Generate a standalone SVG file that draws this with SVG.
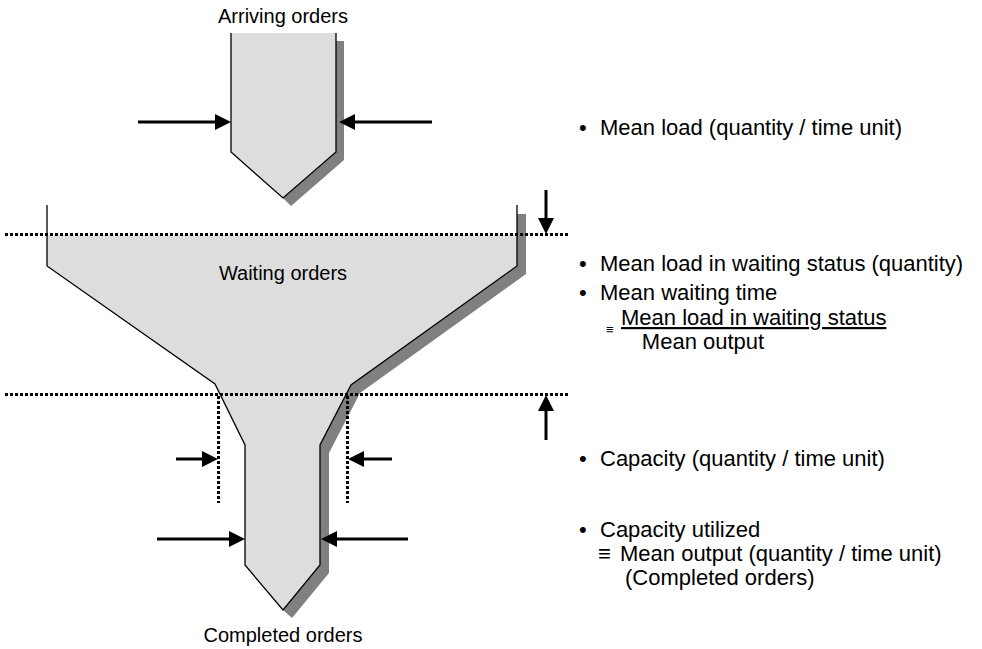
<svg xmlns="http://www.w3.org/2000/svg" width="982" height="649" viewBox="0 0 982 649">
<style>
text{font-family:"Liberation Sans",Arial,sans-serif;font-size:20px;fill:#000}
#legend text{font-size:22px}
.fill{fill:#dddddd;stroke:none}
.shadow{fill:#808080;stroke:none}
.outline{fill:none;stroke:#000;stroke-width:1.3;stroke-linejoin:miter}
.dot{stroke:#000;stroke-width:3;stroke-dasharray:3 2;fill:none}
.arr{stroke:#000;stroke-width:3;fill:none;marker-end:url(#ah)}
</style>
<defs>
<marker id="ah" viewBox="0 0 16 16" refX="6" refY="8" markerWidth="16" markerHeight="16" markerUnits="userSpaceOnUse" orient="auto">
<path d="M0,0 L16,8 L0,16 z" fill="#000"/>
</marker>
</defs>
<rect width="982" height="649" fill="#fff"/>

<g id="arriving">
<polygon class="shadow" points="336,41 344,41 344,160 291,206 283,198 336,152"/>
<polygon class="fill" points="231,33 336,33 336,152 283,198 231,152"/>
<polyline class="outline" points="231,33 231,152 283,198 336,152 336,33"/>
<text x="283" y="23" text-anchor="middle">Arriving orders</text>
</g>

<g id="funnel">
<polygon class="shadow" points="517,214 526,214 526,274 360,393 329,453 329,573 292,618 283,610 320,565 320,445 351,385 517,266"/>
<polygon class="fill" points="47,235 47,266 215,384 245,445 245,565 283,610 320,565 320,445 351,385 517,266 517,235"/>
<polyline class="outline" points="47,205 47,266 215,384 245,445 245,565 283,610 320,565 320,445 351,385 517,266 517,205"/>
<text x="283" y="280" text-anchor="middle">Waiting orders</text>
<text x="283" y="642" text-anchor="middle">Completed orders</text>
</g>

<g id="connectors">
<line class="dot" x1="5" y1="234.5" x2="568" y2="234.5"/>
<line class="dot" x1="5" y1="394.5" x2="568" y2="394.5"/>
<line class="dot" x1="218.5" y1="396" x2="218.5" y2="503"/>
<line class="dot" x1="347.5" y1="396" x2="347.5" y2="503"/>
<line class="arr" x1="138" y1="122" x2="221" y2="122"/>
<line class="arr" x1="432" y1="122" x2="349" y2="122"/>
<line class="arr" x1="546" y1="190" x2="546" y2="224"/>
<line class="arr" x1="546" y1="440" x2="546" y2="405"/>
<line class="arr" x1="176" y1="459" x2="208" y2="459"/>
<line class="arr" x1="392" y1="459" x2="358" y2="459"/>
<line class="arr" x1="157" y1="539" x2="235" y2="539"/>
<line class="arr" x1="408" y1="539" x2="331" y2="539"/>
</g>

<g id="legend">
<text x="579" y="135">•</text><text x="600" y="135">Mean load (quantity / time unit)</text>
<text x="579" y="271">•</text><text x="600" y="271">Mean load in waiting status (quantity)</text>
<text x="579" y="300">•</text><text x="600" y="300">Mean waiting time</text>
<text x="606" y="334" style="font-size:13px">≡</text>
<text x="621" y="325" text-decoration="underline">Mean load in waiting status</text>
<text x="703" y="349" text-anchor="middle">Mean output</text>
<text x="579" y="466">•</text><text x="600" y="466">Capacity (quantity / time unit)</text>
<text x="579" y="537">•</text><text x="600" y="537">Capacity utilized</text>
<text x="598" y="561">≡</text><text x="620" y="561">Mean output (quantity / time unit)</text>
<text x="625" y="585">(Completed orders)</text>
</g>
</svg>
